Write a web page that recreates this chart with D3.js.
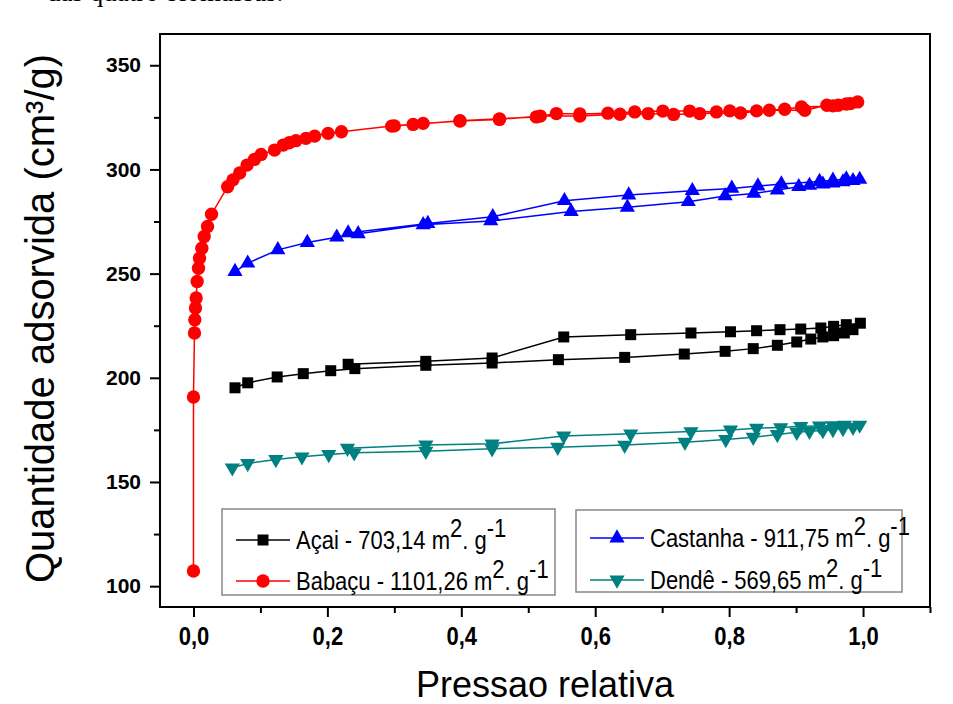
<!DOCTYPE html>
<html>
<head>
<meta charset="utf-8">
<script src="https://cdn.jsdelivr.net/npm/d3@7"></script>
<style>
  body { margin: 0; background: #fff; }
  svg text { font-family: "Liberation Sans", Arial, Helvetica, sans-serif; }
</style>
</head>
<body>
<div id="chart"></div>
<script>
// isotherm data: [pressao relativa, quantidade]
var acaiAds = [[0.062,195.2],[0.081,197.6],[0.125,200.4],[0.164,202.0],[0.205,203.4],[0.241,204.4],[0.347,206.0],[0.446,207.1],[0.545,208.7],[0.644,209.8],[0.733,211.4],[0.794,212.7],[0.836,214.0],[0.872,215.6],[0.901,217.2],[0.922,218.6],[0.94,219.6],[0.956,220.2],[0.972,221.5],[0.985,223.1],[0.996,226.2]];
var acaiDes = [[0.975,225.5],[0.956,224.7],[0.937,223.9],[0.907,223.4],[0.876,223.1],[0.841,222.6],[0.802,222.1],[0.743,221.5],[0.653,220.7],[0.553,219.6],[0.446,209.5],[0.347,207.9],[0.231,206.5]];

var babacuAds = [[0,107.3],[0,190.8],[0.0015,221.5],[0.002,227.9],[0.003,233.5],[0.004,238.3],[0.0055,246.2],[0.0075,252.6],[0.009,257.4],[0.0125,262.2],[0.016,267.8],[0.021,272.6],[0.027,278.5],[0.051,291.7],[0.059,295.0],[0.069,298.3],[0.080,302.1],[0.091,304.8],[0.101,307.2],[0.121,309.3],[0.134,311.7],[0.143,312.8],[0.153,313.8],[0.168,314.9],[0.181,316.0],[0.201,317.3],[0.221,318.1],[0.296,320.8],[0.343,322.1],[0.398,323.2],[0.457,324.0],[0.518,325.6],[0.577,325.6],[0.637,326.5],[0.679,326.8],[0.717,326.4],[0.756,326.8],[0.817,327.1],[0.860,328.4],[0.913,328.4],[0.946,330.8],[0.963,330.8],[0.981,331.6],[0.992,332.4]];
var babacuDes = [[0.975,331.4],[0.955,330.5],[0.908,330.0],[0.883,328.9],[0.841,328.1],[0.801,328.1],[0.781,327.6],[0.741,328.0],[0.701,328.0],[0.659,327.6],[0.619,327.0],[0.577,326.6],[0.542,326.8],[0.512,325.2],[0.457,324.3],[0.398,323.4],[0.328,321.6],[0.300,320.9]];

var castanhaAds = [[0.062,251.0],[0.081,255.0],[0.126,261.4],[0.170,264.9],[0.214,267.5],[0.246,269.1],[0.343,273.4],[0.444,275.3],[0.564,279.8],[0.648,281.8],[0.739,284.5],[0.794,287.3],[0.837,288.5],[0.872,290.1],[0.904,291.7],[0.92,292.3],[0.94,292.9],[0.955,293.4],[0.97,294.0],[0.985,294.6],[0.995,295.2]];
var castanhaDes = [[0.975,295.4],[0.955,294.8],[0.935,294.2],[0.878,293.0],[0.843,292.0],[0.804,290.9],[0.745,289.8],[0.650,287.7],[0.554,285.0],[0.447,277.3],[0.350,274.0],[0.231,269.5]];

var dendeAds = [[0.058,156.8],[0.081,158.9],[0.123,160.8],[0.162,162.1],[0.202,163.2],[0.240,164.0],[0.347,164.8],[0.446,166.0],[0.544,166.7],[0.644,167.7],[0.734,169.1],[0.795,170.4],[0.836,171.5],[0.872,172.8],[0.901,173.9],[0.92,174.3],[0.94,174.7],[0.955,175.2],[0.97,175.7],[0.985,176.3],[0.995,177.3]];
var dendeDes = [[0.972,177.3],[0.955,177.0],[0.935,176.9],[0.907,176.7],[0.877,176.1],[0.841,175.8],[0.802,175.0],[0.743,174.2],[0.653,173.1],[0.553,172.1],[0.446,168.3],[0.347,167.8],[0.230,166.2]];

var seriesNames = ["Açai", "Babaçu", "Castanha", "Dendê"];
var seriesAreas = ["703,14", "1101,26", "911,75", "569,65"];
var xMajorTicks = [0, 0.2, 0.4, 0.6, 0.8, 1.0];
var xMinorTicks = [0.1, 0.3, 0.5, 0.7, 0.9, 1.1];
var yMajorTicks = [100, 150, 200, 250, 300, 350];
var yMinorTicks = [125, 175, 225, 275, 325];

// set the dimensions and margins of the graph
var margin = { top: 34, right: 23, bottom: 97, left: 160 },
  width = 953 - margin.left - margin.right,
  height = 704 - margin.top - margin.bottom;

var sans = "'Liberation Sans', Arial, Helvetica, sans-serif";

var svg = d3.select("#chart")
  .append("svg")
  .attr("width", 953)
  .attr("height", 704)
  .attr("font-family", sans);

// caption line cut at the top of the page
svg.append("text")
  .attr("x", 47)
  .attr("y", 1)
  .style("font-family", "'Liberation Serif', 'Times New Roman', serif")
  .style("font-size", "27px")
  .text("das quatro biomassas.");

var chart = svg.append("g")
  .attr("transform", "translate(" + margin.left + "," + margin.top + ")");

var x = d3.scaleLinear().domain([-0.05, 1.1]).range([0, width]);
var y = d3.scaleLinear().domain([90, 365]).range([height, 0]);

var fmt = function (d) { return d3.format(".1f")(d).replace(".", ","); };

// X axis
var xAxis = chart.append("g")
  .attr("class", "axis")
  .attr("transform", "translate(0," + height + ")")
  .call(d3.axisBottom(x).tickValues(xMajorTicks).tickFormat(fmt).tickSize(10).tickPadding(10));
xAxis.selectAll("text")
  .style("font-size", "25px")
  .attr("transform", "scale(0.88,1)");
chart.append("g")
  .attr("class", "axis")
  .attr("transform", "translate(0," + height + ")")
  .call(d3.axisBottom(x).tickValues(xMinorTicks).tickFormat("").tickSize(6));

// Y axis
var yAxis = chart.append("g")
  .attr("class", "axis")
  .call(d3.axisLeft(y).tickValues(yMajorTicks).tickSize(10).tickPadding(9));
yAxis.selectAll("text").style("font-size", "21px");
chart.append("g")
  .attr("class", "axis")
  .call(d3.axisLeft(y).tickValues(yMinorTicks).tickFormat("").tickSize(6));

chart.selectAll(".axis").attr("font-family", sans);
chart.selectAll(".axis .domain").remove();
chart.selectAll(".axis line").attr("stroke", "#000").attr("stroke-width", 2);
chart.selectAll(".axis text")
  .style("font-weight", "bold")
  .attr("fill", "#000");

// frame
chart.append("rect")
  .attr("width", width)
  .attr("height", height)
  .attr("fill", "none")
  .attr("stroke", "#000")
  .attr("stroke-width", 2);

// axis titles
svg.append("text")
  .attr("x", 545)
  .attr("y", 697)
  .style("text-anchor", "middle")
  .style("font-size", "36px")
  .text("Pressao relativa");

svg.append("text")
  .attr("transform", "translate(54," + (margin.top + height / 2 - 2) + ") rotate(-90)")
  .style("text-anchor", "middle")
  .style("font-size", "40px")
  .text("Quantidade adsorvida (cm³/g)");

var line = d3.line()
  .x(function (d) { return x(d[0]) })
  .y(function (d) { return y(d[1]) });

var series = [
  { ads: acaiAds, des: acaiDes, color: "#000000", symbol: d3.symbolSquare, size: 121, rot: 0 },
  { ads: babacuAds, des: babacuDes, color: "#ff0000", symbol: d3.symbolCircle, size: 140, rot: 0 },
  { ads: castanhaAds, des: castanhaDes, color: "#0000ff", symbol: d3.symbolTriangle, size: 100, rot: 0 },
  { ads: dendeAds, des: dendeDes, color: "#008080", symbol: d3.symbolTriangle, size: 100, rot: 180 }
];

series.forEach(function (s) {
  var all = s.ads.concat(s.des);
  chart.append("path")
    .datum(all)
    .attr("fill", "none")
    .attr("stroke", s.color)
    .attr("stroke-width", 1.5)
    .attr("d", line);

  chart.selectAll(null)
    .data(all)
    .enter()
    .append("path")
    .attr("d", d3.symbol().type(s.symbol).size(s.size))
    .attr("fill", s.color)
    .attr("transform", function (d) {
      return "translate(" + x(d[0]) + "," + y(d[1]) + ") rotate(" + s.rot + ")";
    });
});

// legends (two boxes)
var boxes = [
  { x: 222, y: 509, w: 333, h: 86, items: [0, 1], rows: [540, 581] },
  { x: 576, y: 510, w: 326, h: 82, items: [2, 3], rows: [538, 580] }
];

boxes.forEach(function (b) {
  svg.append("rect")
    .attr("x", b.x).attr("y", b.y)
    .attr("width", b.w).attr("height", b.h)
    .attr("fill", "#fff")
    .attr("stroke", "#888")
    .attr("stroke-width", 1.5);

  b.items.forEach(function (i, k) {
    var s = series[i], ry = b.rows[k], lx = b.x + 14;
    svg.append("line")
      .attr("x1", lx).attr("x2", lx + 54)
      .attr("y1", ry).attr("y2", ry)
      .attr("stroke", s.color).attr("stroke-width", 1.5);
    svg.append("path")
      .attr("d", d3.symbol().type(s.symbol).size(s.size))
      .attr("fill", s.color)
      .attr("transform", "translate(" + (lx + 27) + "," + ry + ") rotate(" + s.rot + ")");
    // text drawn a bit narrow, like the squeezed original
    var t = svg.append("text")
      .attr("transform", "translate(" + (lx + 60) + "," + (ry + 9) + ") scale(0.88,1)")
      .style("font-size", "25px");
    t.append("tspan").text(seriesNames[i] + " - " + seriesAreas[i] + " m");
    t.append("tspan").attr("dy", -12).text("2");
    t.append("tspan").attr("dy", 12).text(". g");
    t.append("tspan").attr("dy", -12).text("-1");
  });
});
</script>
</body>
</html>
